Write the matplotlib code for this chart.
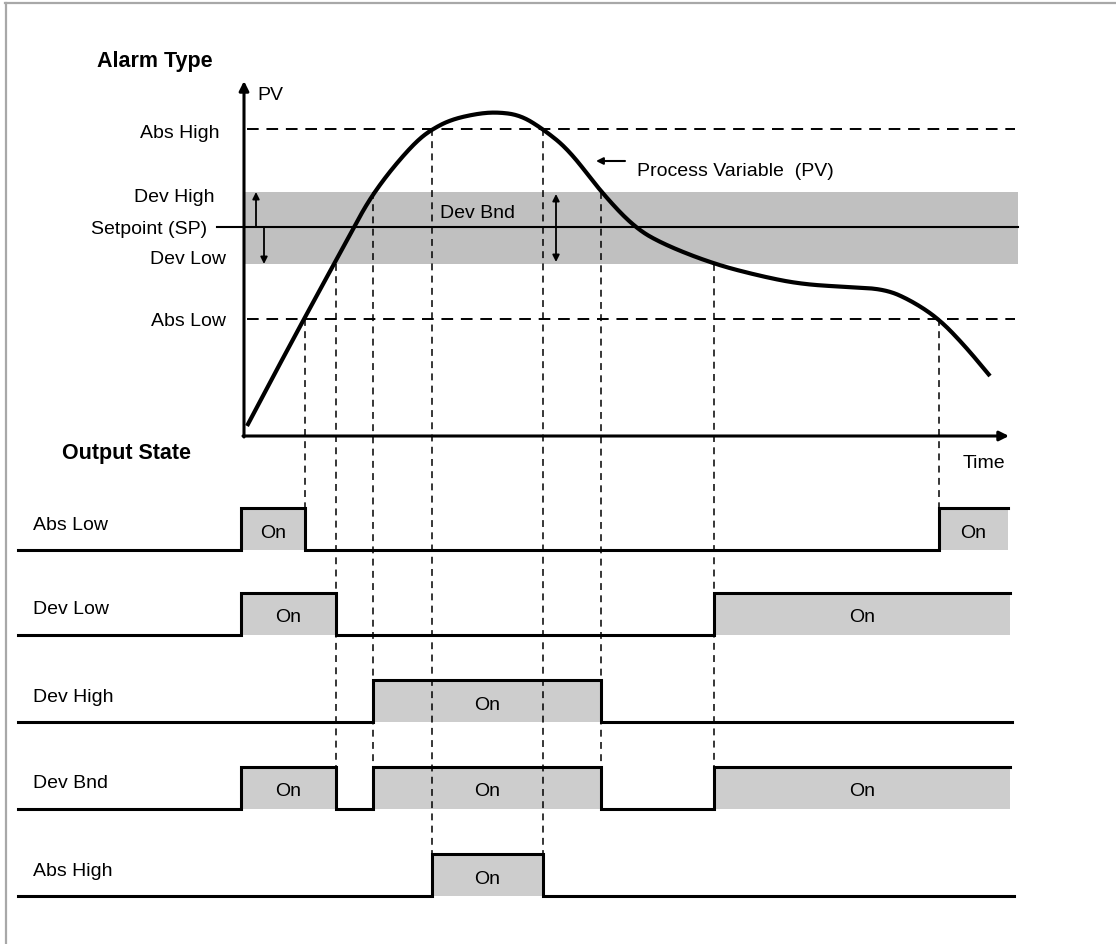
import numpy as np
import matplotlib.pyplot as plt

plt.rcParams['font.family'] = ['Liberation Sans', 'DejaVu Sans']

# levels on the PV axis (picture units, y grows downwards)
abs_high = 130
dev_high = 193
setpoint = 228
dev_low = 265
abs_low = 320

# process variable
pv_t = [247, 275, 304, 334, 354, 368, 384, 402, 418, 431, 450, 475, 496, 520,
        543, 569, 601, 635, 665, 714, 760, 800, 845, 885, 912, 939, 965, 990]
pv_y = [427, 374, 320, 265, 228, 203, 180, 158, 141, 131, 121, 115, 113, 116,
        130, 151, 193, 229, 246, 265, 277, 285, 288, 290, 302, 320, 347, 377]

# moments where the PV crosses a threshold, and the level it crosses
cross_t = [305, 336, 373, 432, 543, 601, 714, 939]
cross_lvl = [abs_low, dev_low, dev_high, abs_high, abs_high, dev_high, dev_low, abs_low]
cross_end = [509, 810, 768, 855, 855, 810, 768, 509]

# output state rows
row_names = ['Abs Low', 'Dev Low', 'Dev High', 'Dev Bnd', 'Abs High']
row_base = [551, 636, 723, 810, 897]
row_end = [1008, 1010, 1012, 1010, 1014]
row_on = [[(241, 305), (939, 1008)],
          [(241, 336), (714, 1010)],
          [(373, 601)],
          [(241, 336), (373, 601), (714, 1010)],
          [(432, 543)]]
row_h = 42


def smooth(xs, ys, it=5):
    # corner cutting (Chaikin) over the read points
    p = np.column_stack([xs, ys]).astype(float)
    for _ in range(it):
        q = 0.75 * p[:-1] + 0.25 * p[1:]
        r = 0.25 * p[:-1] + 0.75 * p[1:]
        mid = np.empty((2 * len(q), 2))
        mid[0::2] = q
        mid[1::2] = r
        p = np.vstack([p[:1], mid, p[-1:]])
    return p[:, 0], p[:, 1]


def arrow(ax, tail, tip, lw=1.2, ms=12, style='-|>'):
    ax.annotate('', xy=tip, xytext=tail,
                arrowprops=dict(arrowstyle=style, lw=lw, color='black',
                                mutation_scale=ms, shrinkA=0, shrinkB=0))


fig = plt.figure(figsize=(11.16, 9.45), dpi=100)
ax = fig.add_axes([0, 0, 1, 1])
ax.set_xlim(0, 1116)
ax.set_ylim(945, 0)
ax.axis('off')

# frame (top and left only)
ax.plot([5, 1116], [4, 4], color='#a8a8a8', lw=1.6, clip_on=False)
ax.plot([6, 6], [4, 945], color='#a8a8a8', lw=1.6, clip_on=False)

fs = 14
ax.text(155, 62, 'Alarm Type', fontsize=15.5, fontweight='bold', ha='center', va='center')
ax.text(127, 453, 'Output State', fontsize=15.5, fontweight='bold', ha='center', va='center')

# deviation band and setpoint
ax.fill_between([244, 1018], dev_high, dev_low, color='#c0c0c0', lw=0, zorder=1)
ax.plot([217, 1018], [setpoint, setpoint], color='black', lw=1.5, zorder=3)

# absolute thresholds
ax.plot([247, 1015], [abs_high, abs_high], color='black', lw=1.4, ls=(0, (6, 4)), zorder=3)
ax.plot([247, 1015], [abs_low, abs_low], color='black', lw=1.4, ls=(0, (6, 4)), zorder=3)

# crossing markers
for t, y0, y1 in zip(cross_t, cross_lvl, cross_end):
    ax.plot([t, t], [y0, y1], color='black', lw=1.1, ls=(0, (4.5, 3.5)), zorder=2)

# axes with arrows
arrow(ax, (244, 438), (244, 82), lw=2.2, ms=14)
arrow(ax, (243, 437), (1009, 437), lw=2.2, ms=14)
ax.text(257, 95, 'PV', fontsize=fs, ha='left', va='center')
ax.text(1005, 464, 'Time', fontsize=fs, ha='right', va='center')

# level labels
ax.text(219, 133, 'Abs High', fontsize=fs, ha='right', va='center')
ax.text(215, 197, 'Dev High', fontsize=fs, ha='right', va='center')
ax.text(207, 229, 'Setpoint (SP)', fontsize=fs, ha='right', va='center')
ax.text(226, 259, 'Dev Low', fontsize=fs, ha='right', va='center')
ax.text(226, 322, 'Abs Low', fontsize=fs, ha='right', va='center')

# deviation arrows
arrow(ax, (256, setpoint), (256, dev_high), lw=1.3, ms=10)
arrow(ax, (264, setpoint), (264, dev_low), lw=1.3, ms=10)
arrow(ax, (556, dev_high + 2), (556, dev_low - 2), lw=1.3, ms=10, style='<|-|>')
ax.text(478, 213, 'Dev Bnd', fontsize=fs, ha='center', va='center')

# PV curve
cx, cy = smooth(pv_t, pv_y)
ax.plot(cx, cy, color='black', lw=3.0, solid_capstyle='butt', zorder=4)
arrow(ax, (625, 162), (596, 162), lw=1.5, ms=10)
ax.text(637, 172, 'Process Variable  (PV)', fontsize=fs, ha='left', va='center')

# output state rows
for name, base, end, spans in zip(row_names, row_base, row_end, row_on):
    high = base - row_h
    px, py = [18], [base]
    for s0, s1 in spans:
        ax.fill_between([s0, s1], high, base, color='#cdcdcd', lw=0, zorder=1)
        ax.text((s0 + s1) / 2, base - row_h / 2 + 3, 'On', fontsize=fs,
                ha='center', va='center', zorder=5)
        px += [s0, s0, s1]
        py += [base, high, high]
        if s1 < end:
            px.append(s1)
            py.append(base)
    if px[-1] < end:
        px.append(end)
        py.append(py[-1])
    ax.plot(px, py, color='black', lw=2.2, solid_joinstyle='miter', zorder=4)
    ax.text(33, base - 26, name, fontsize=fs, ha='left', va='center')

fig.savefig('out.png', dpi=100)
